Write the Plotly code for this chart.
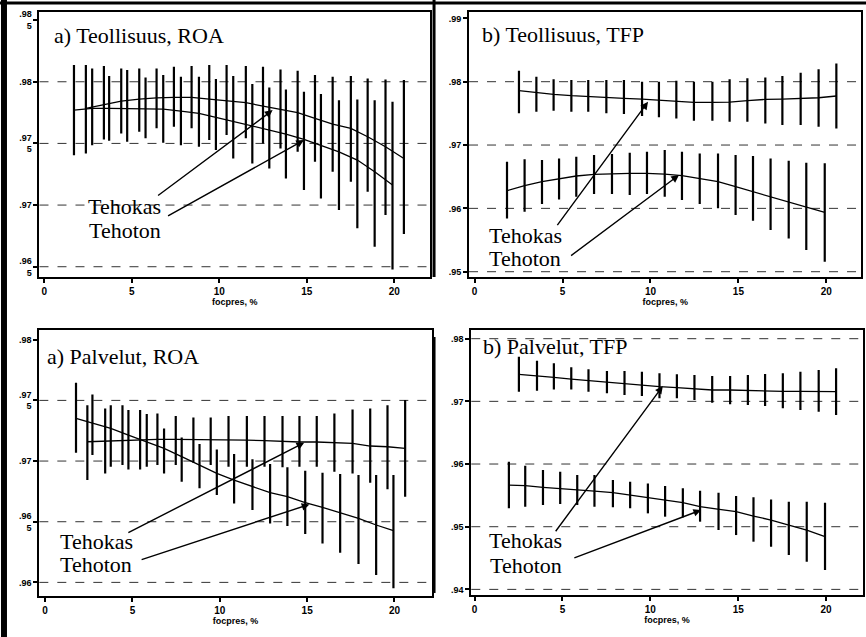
import plotly.graph_objects as go

# ---------------- data ----------------
X_TICKS = [0, 5, 10, 15, 20]
X_TITLE = "focpres, %"
LABEL_EFF = "Tehokas"
LABEL_INEFF = "Tehoton"

# Panel 1: a) Teollisuus, ROA
p1_title = "a) Teollisuus, ROA"
p1_eff_x = [2.38, 3.41, 4.40, 5.43, 6.42, 7.41, 8.42, 9.43, 10.42, 11.52, 12.50, 13.50, 14.48, 15.47, 16.48, 17.52, 18.48, 19.50, 20.55]
p1_eff_y = [0.97784, 0.97811, 0.97843, 0.97859, 0.97870, 0.97873, 0.97873, 0.97859, 0.97846, 0.97830, 0.97803, 0.97776, 0.97749, 0.97703, 0.97657, 0.97622, 0.97554, 0.97473, 0.97378]
p1_eff_hi = [0.98135, 0.98127, 0.98108, 0.98108, 0.98108, 0.98122, 0.98127, 0.98135, 0.98135, 0.98127, 0.98122, 0.98100, 0.98089, 0.98054, 0.98041, 0.98046, 0.98027, 0.98019, 0.98014]
p1_eff_lo = [0.97419, 0.97532, 0.97581, 0.97595, 0.97622, 0.97635, 0.97622, 0.97527, 0.97568, 0.97541, 0.97500, 0.97459, 0.97432, 0.97351, 0.97270, 0.97189, 0.97108, 0.96919, 0.96765]
p1_ineff_x = [1.70, 2.74, 3.71, 4.74, 5.79, 6.80, 7.81, 8.84, 9.81, 10.80, 11.89, 12.86, 13.81, 14.84, 15.81, 16.84, 17.89, 18.88, 19.90]
p1_ineff_y = [0.97770, 0.97784, 0.97784, 0.97784, 0.97784, 0.97778, 0.97762, 0.97743, 0.97711, 0.97676, 0.97641, 0.97608, 0.97576, 0.97532, 0.97486, 0.97432, 0.97365, 0.97270, 0.97162]
p1_ineff_hi = [0.98135, 0.98108, 0.98046, 0.98095, 0.98035, 0.98054, 0.98041, 0.98041, 0.98022, 0.98046, 0.97981, 0.97954, 0.97938, 0.97919, 0.97900, 0.97851, 0.97857, 0.97851, 0.97838]
p1_ineff_lo = [0.97405, 0.97486, 0.97522, 0.97514, 0.97541, 0.97505, 0.97486, 0.97473, 0.97446, 0.97378, 0.97338, 0.97297, 0.97216, 0.97122, 0.97054, 0.96959, 0.96811, 0.96662, 0.96478]
p1_ytickvals = [0.965, 0.97, 0.975, 0.98, 0.985]
p1_yticktext = [".96<br>5", ".97", ".97<br>5", ".98", ".98<br>5"]
p1_grid = [0.965, 0.97, 0.975, 0.98]

# Panel 2: b) Teollisuus, TFP
p2_title = "b) Teollisuus, TFP"
p2_eff_x = [2.52, 3.51, 4.49, 5.50, 6.46, 7.49, 8.49, 9.52, 10.48, 11.47, 12.47, 13.52, 14.50, 15.51, 16.53, 17.50, 18.54, 19.56, 20.57]
p2_eff_y = [0.97858, 0.97826, 0.97800, 0.97779, 0.97763, 0.97753, 0.97737, 0.97726, 0.97711, 0.97700, 0.97674, 0.97674, 0.97679, 0.97700, 0.97721, 0.97726, 0.97732, 0.97747, 0.97774]
p2_eff_hi = [0.98174, 0.98079, 0.98037, 0.98026, 0.98026, 0.98026, 0.98026, 0.98000, 0.98000, 0.98016, 0.98000, 0.98000, 0.98037, 0.98053, 0.98068, 0.98089, 0.98142, 0.98195, 0.98289]
p2_eff_lo = [0.97500, 0.97526, 0.97542, 0.97526, 0.97526, 0.97500, 0.97489, 0.97458, 0.97437, 0.97421, 0.97384, 0.97384, 0.97368, 0.97368, 0.97342, 0.97316, 0.97316, 0.97289, 0.97263]
p2_ineff_x = [1.84, 2.84, 3.83, 4.80, 5.78, 6.79, 7.81, 8.82, 9.80, 10.81, 11.79, 12.80, 13.84, 14.84, 15.83, 16.83, 17.86, 18.86, 19.91]
p2_ineff_y = [0.96279, 0.96358, 0.96421, 0.96463, 0.96511, 0.96537, 0.96547, 0.96553, 0.96553, 0.96542, 0.96516, 0.96474, 0.96421, 0.96342, 0.96263, 0.96184, 0.96105, 0.96026, 0.95937]
p2_ineff_hi = [0.96737, 0.96774, 0.96763, 0.96789, 0.96816, 0.96842, 0.96858, 0.96879, 0.96895, 0.96921, 0.96895, 0.96868, 0.96868, 0.96842, 0.96826, 0.96789, 0.96753, 0.96721, 0.96711]
p2_ineff_lo = [0.95842, 0.95947, 0.96068, 0.96142, 0.96184, 0.96226, 0.96226, 0.96211, 0.96226, 0.96184, 0.96132, 0.96068, 0.96000, 0.95895, 0.95805, 0.95658, 0.95526, 0.95342, 0.95158]
p2_ytickvals = [0.95, 0.96, 0.97, 0.98, 0.99]
p2_yticktext = [".95", ".96", ".97", ".98", ".99"]
p2_grid = [0.95, 0.96, 0.97, 0.98]

# Panel 3: a) Palvelut, ROA
p3_title = "a) Palvelut, ROA"
p3_eff_x = [2.42, 3.44, 4.43, 5.44, 6.43, 7.48, 8.49, 9.48, 10.50, 11.55, 12.56, 13.59, 14.56, 15.55, 16.56, 17.60, 18.61, 19.60, 20.61]
p3_eff_y = [0.97159, 0.97165, 0.97173, 0.97179, 0.97179, 0.97179, 0.97179, 0.97173, 0.97173, 0.97173, 0.97168, 0.97162, 0.97157, 0.97157, 0.97151, 0.97146, 0.97124, 0.97118, 0.97104]
p3_eff_hi = [0.97461, 0.97434, 0.97461, 0.97420, 0.97393, 0.97371, 0.97360, 0.97360, 0.97371, 0.97371, 0.97371, 0.97371, 0.97371, 0.97371, 0.97393, 0.97426, 0.97434, 0.97461, 0.97503]
p3_eff_lo = [0.96843, 0.96898, 0.96967, 0.96931, 0.96967, 0.96967, 0.96986, 0.96967, 0.96953, 0.96953, 0.96953, 0.96948, 0.96953, 0.96953, 0.96912, 0.96898, 0.96821, 0.96767, 0.96706]
p3_ineff_x = [1.77, 2.71, 3.76, 4.77, 5.82, 6.81, 7.82, 8.84, 9.83, 10.82, 11.87, 12.88, 13.87, 14.89, 15.88, 16.89, 17.94, 18.95, 19.94]
p3_ineff_y = [0.97352, 0.97310, 0.97269, 0.97214, 0.97159, 0.97104, 0.97036, 0.96967, 0.96898, 0.96843, 0.96788, 0.96739, 0.96706, 0.96657, 0.96618, 0.96574, 0.96528, 0.96473, 0.96426]
p3_ineff_hi = [0.97646, 0.97549, 0.97461, 0.97420, 0.97387, 0.97269, 0.97195, 0.97140, 0.97096, 0.97058, 0.97014, 0.96975, 0.96948, 0.96920, 0.96904, 0.96893, 0.96885, 0.96885, 0.96885]
p3_ineff_lo = [0.97069, 0.97049, 0.96953, 0.96931, 0.96953, 0.96898, 0.96830, 0.96775, 0.96720, 0.96651, 0.96596, 0.96486, 0.96464, 0.96398, 0.96321, 0.96245, 0.96151, 0.96061, 0.95951]
p3_ytickvals = [0.96, 0.965, 0.97, 0.975, 0.98]
p3_yticktext = [".96", ".96<br>5", ".97", ".97<br>5", ".98"]
p3_grid = [0.96, 0.965, 0.97, 0.975]

# Panel 4: b) Palvelut, TFP
p4_title = "b) Palvelut, TFP"
p4_eff_x = [2.52, 3.55, 4.51, 5.50, 6.48, 7.53, 8.53, 9.52, 10.52, 11.51, 12.51, 13.52, 14.54, 15.55, 16.53, 17.54, 18.54, 19.58, 20.57]
p4_eff_y = [0.97431, 0.97410, 0.97383, 0.97356, 0.97330, 0.97314, 0.97287, 0.97261, 0.97234, 0.97218, 0.97197, 0.97181, 0.97181, 0.97170, 0.97165, 0.97160, 0.97160, 0.97154, 0.97154]
p4_eff_hi = [0.97713, 0.97649, 0.97606, 0.97543, 0.97511, 0.97484, 0.97484, 0.97473, 0.97447, 0.97431, 0.97420, 0.97404, 0.97404, 0.97420, 0.97436, 0.97447, 0.97473, 0.97500, 0.97527]
p4_eff_lo = [0.97154, 0.97170, 0.97191, 0.97191, 0.97154, 0.97128, 0.97101, 0.97085, 0.97048, 0.97048, 0.97021, 0.96979, 0.96952, 0.96941, 0.96926, 0.96888, 0.96862, 0.96835, 0.96782]
p4_ineff_x = [1.95, 2.88, 3.89, 4.87, 5.84, 6.82, 7.87, 8.85, 9.86, 10.84, 11.85, 12.83, 13.88, 14.88, 15.87, 16.87, 17.88, 18.90, 19.94]
p4_ineff_y = [0.95665, 0.95654, 0.95628, 0.95612, 0.95585, 0.95569, 0.95543, 0.95505, 0.95468, 0.95426, 0.95383, 0.95319, 0.95277, 0.95239, 0.95170, 0.95106, 0.95027, 0.94947, 0.94840]
p4_ineff_hi = [0.96037, 0.95973, 0.95904, 0.95878, 0.95824, 0.95824, 0.95745, 0.95718, 0.95691, 0.95649, 0.95612, 0.95574, 0.95543, 0.95489, 0.95468, 0.95436, 0.95399, 0.95399, 0.95383]
p4_ineff_lo = [0.95293, 0.95319, 0.95346, 0.95362, 0.95346, 0.95319, 0.95309, 0.95293, 0.95213, 0.95160, 0.95149, 0.95080, 0.94947, 0.94867, 0.94761, 0.94681, 0.94548, 0.94441, 0.94309]
p4_ytickvals = [0.94, 0.95, 0.96, 0.97, 0.98]
p4_yticktext = [".94", ".95", ".96", ".97", ".98"]
p4_grid = [0.94, 0.95, 0.96, 0.97, 0.98]

# ---------------- layout config ----------------
panels = [
    dict(title=p1_title,
         series=[(p1_eff_x, p1_eff_y, p1_eff_lo, p1_eff_hi), (p1_ineff_x, p1_ineff_y, p1_ineff_lo, p1_ineff_hi)],
         tv=p1_ytickvals, tt=p1_yticktext, grid=p1_grid,
         xdom=[0.0456, 0.4965], ydom=[0.5656, 0.9816],
         xr=[-0.27, 22.04], yr=[0.96419, 0.98568],
         title_pos=(0.42, 0.98373),
         lab=((4.61, 0.96986), (4.61, 0.96797)),
         arrows=(((6.42, 0.97068), (13.05, 0.97770)), ((6.99, 0.96905), (14.84, 0.97527)))),
    dict(title=p2_title,
         series=[(p2_eff_x, p2_eff_y, p2_eff_lo, p2_eff_hi), (p2_ineff_x, p2_ineff_y, p2_ineff_lo, p2_ineff_hi)],
         tv=p2_ytickvals, tt=p2_yticktext, grid=p2_grid,
         xdom=[0.5416, 0.9946], ydom=[0.5656, 0.9816],
         xr=[-0.32, 21.99], yr=[0.94921, 0.99105],
         title_pos=(0.28, 0.98753),
         lab=((2.88, 0.95579), (2.84, 0.95211)),
         arrows=(((4.64, 0.95711), (9.86, 0.97684)), ((5.40, 0.95237), (11.62, 0.96526)))),
    dict(title=p3_title,
         series=[(p3_eff_x, p3_eff_y, p3_eff_lo, p3_eff_hi), (p3_ineff_x, p3_ineff_y, p3_ineff_lo, p3_ineff_hi)],
         tv=p3_ytickvals, tt=p3_yticktext, grid=p3_grid,
         xdom=[0.0454, 0.4985], ydom=[0.0644, 0.4819],
         xr=[-0.33, 22.13], yr=[0.95888, 0.98080],
         title_pos=(0.0, 0.97860),
         lab=((2.92, 0.96335), (2.92, 0.96148)),
         arrows=(((4.68, 0.96404), (14.83, 0.97151)), ((5.44, 0.96184), (15.13, 0.96643)))),
    dict(title=p4_title,
         series=[(p4_eff_x, p4_eff_y, p4_eff_lo, p4_eff_hi), (p4_ineff_x, p4_ineff_y, p4_ineff_lo, p4_ineff_hi)],
         tv=p4_ytickvals, tt=p4_yticktext, grid=p4_grid,
         xdom=[0.5442, 0.9965], ydom=[0.0659, 0.4819],
         xr=[-0.19, 22.10], yr=[0.9391, 0.98138],
         title_pos=(0.38, 0.97872),
         lab=((2.90, 0.94787), (2.90, 0.94388)),
         arrows=(((4.55, 0.94904), (10.71, 0.97245)), ((5.59, 0.94495), (12.89, 0.95266)))),
]

SERIF = "Liberation Serif, Times New Roman, serif"
SANS = "Liberation Sans, Arial, sans-serif"

fig = go.Figure()
annotations = []
layout_axes = {}
shapes = []

for i, p in enumerate(panels, start=1):
    xa = "x" if i == 1 else f"x{i}"
    ya = "y" if i == 1 else f"y{i}"
    # dashed gridlines
    for g in p["grid"]:
        shapes.append(dict(type="line", xref=f"{xa} domain", yref=ya, x0=0, x1=1, y0=g, y1=g,
                           line=dict(color="#333333", width=1, dash="dash"), layer="below"))
    for (sx, sy, slo, shi) in p["series"]:
        fig.add_trace(go.Scatter(
            x=sx, y=sy, mode="lines", xaxis=xa, yaxis=ya,
            line=dict(color="black", width=1.3),
            error_y=dict(type="data", symmetric=False,
                         array=[h - v for h, v in zip(shi, sy)],
                         arrayminus=[v - l for v, l in zip(sy, slo)],
                         color="black", thickness=2.2, width=0),
            showlegend=False, hoverinfo="skip"))
    xkey = "xaxis" if i == 1 else f"xaxis{i}"
    ykey = "yaxis" if i == 1 else f"yaxis{i}"
    layout_axes[xkey] = dict(
        domain=p["xdom"], range=p["xr"], anchor=ya, automargin=False,
        tickmode="array", tickvals=X_TICKS, ticktext=[str(t) for t in X_TICKS],
        ticks="outside", ticklen=4, tickwidth=1.5, tickcolor="black",
        showline=True, linecolor="black", linewidth=2, mirror=True,
        showgrid=False, zeroline=False,
        tickfont=dict(family=SANS, size=10, color="black", weight="bold"),
        title=dict(text=X_TITLE, standoff=0,
                   font=dict(family=SANS, size=9, color="black", weight="bold")))
    layout_axes[ykey] = dict(
        domain=p["ydom"], range=p["yr"], anchor=xa, automargin=False,
        tickmode="array", tickvals=p["tv"], ticktext=p["tt"],
        ticks="outside", ticklen=4, tickwidth=1.5, tickcolor="black",
        showline=True, linecolor="black", linewidth=2, mirror=True,
        showgrid=False, zeroline=False,
        tickfont=dict(family=SANS, size=9, color="black", weight="bold"))
    annotations.append(dict(
        x=p["title_pos"][0], y=p["title_pos"][1], xref=xa, yref=ya,
        text=p["title"], showarrow=False, xanchor="left", yanchor="middle",
        font=dict(family=SERIF, size=22, color="black")))
    for (lx, ly), txt in zip(p["lab"], [LABEL_EFF, LABEL_INEFF]):
        annotations.append(dict(
            x=lx, y=ly, xref=xa, yref=ya, text=txt, showarrow=False,
            xanchor="center", yanchor="middle",
            font=dict(family=SERIF, size=22, color="black")))
    for (tail, tip) in p["arrows"]:
        annotations.append(dict(
            x=tip[0], y=tip[1], ax=tail[0], ay=tail[1],
            xref=xa, yref=ya, axref=xa, ayref=ya,
            text="", showarrow=True, arrowhead=2, arrowsize=1.1,
            arrowwidth=1.4, arrowcolor="black", standoff=0))

# scanned page frame
shapes += [
    dict(type="line", xref="paper", yref="paper", x0=0.0046, x1=0.0046, y0=0.0, y1=1.0,
         line=dict(color="black", width=6)),
    dict(type="line", xref="paper", yref="paper", x0=0.0, x1=1.0, y0=0.9953, y1=0.9953,
         line=dict(color="black", width=3)),
    dict(type="line", xref="paper", yref="paper", x0=0.5012, x1=0.5012, y0=0.565, y1=1.0,
         line=dict(color="black", width=3)),
    dict(type="line", xref="paper", yref="paper", x0=0.5012, x1=0.5012, y0=0.069, y1=0.471,
         line=dict(color="black", width=3)),
]

fig.update_layout(
    width=866, height=637,
    margin=dict(l=0, r=0, t=0, b=0, autoexpand=False),
    paper_bgcolor="white", plot_bgcolor="white",
    annotations=annotations, shapes=shapes,
    **layout_axes)

fig.write_html("out.html", config={"displayModeBar": False},
               post_script="document.body.style.margin='0';document.body.style.overflow='hidden';")
